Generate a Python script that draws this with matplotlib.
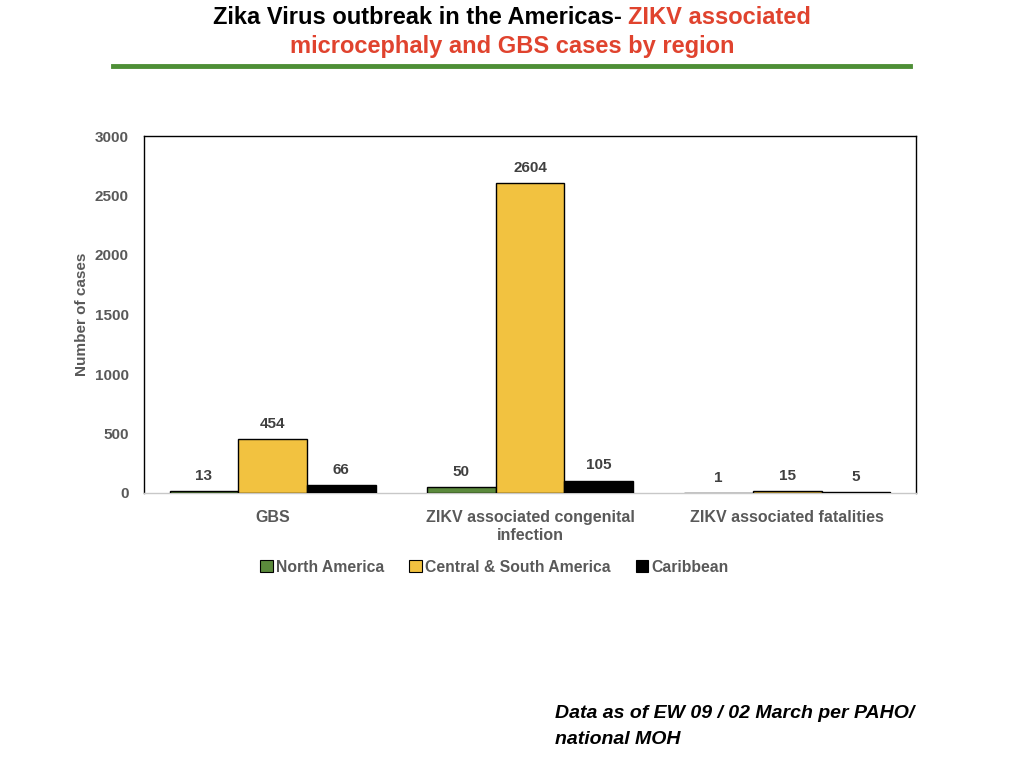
import matplotlib
matplotlib.use("Agg")
import matplotlib.pyplot as plt
import numpy as np
from matplotlib.patches import Patch

categories = ["GBS", "ZIKV associated congenital\ninfection", "ZIKV associated fatalities"]
series_names = ["North America", "Central & South America", "Caribbean"]
north_america = [13, 50, 1]
central_south = [454, 2604, 15]
caribbean = [66, 105, 5]
colors = ["#5B8A3C", "#F2C240", "#000000"]
yticks = [0, 500, 1000, 1500, 2000, 2500, 3000]

plt.rcParams['font.family'] = ['Liberation Sans', 'DejaVu Sans']

fig = plt.figure(figsize=(10.24, 7.68), dpi=100)
ax = fig.add_axes([144/1024, 1-493/768, (916-144)/1024, (493-136)/768])

grey = "#595959"
x = np.arange(len(categories))
w = 0.267
data = [north_america, central_south, caribbean]
for i, (vals, c) in enumerate(zip(data, colors)):
    bars = ax.bar(x + (i-1)*w, vals, width=w, color=c, edgecolor="black", linewidth=1.0, zorder=3)
    for b, v in zip(bars, vals):
        ax.annotate(str(v), (b.get_x()+b.get_width()/2, b.get_height()), xytext=(0, 6),
                    textcoords="offset points", ha="center", va="bottom",
                    fontsize=11, fontweight="bold", color="#404040")

ax.set_xlim(-0.5, 2.5)
ax.set_ylim(0, 3000)
ax.set_yticks(yticks)
ax.set_yticklabels([str(t) for t in yticks], fontsize=11, fontweight="bold", color=grey)
ax.set_xticks(x)
ax.set_xticklabels(categories, fontsize=11.5, fontweight="bold", color=grey, linespacing=1.25)
ax.tick_params(axis="both", length=0)
ax.tick_params(axis="x", pad=12)
ax.tick_params(axis="y", pad=11)
for s in ["left", "top", "right"]:
    ax.spines[s].set_color("black")
    ax.spines[s].set_linewidth(1.0)
ax.spines["bottom"].set_color("#C8C8C8")
ax.spines["bottom"].set_linewidth(1.0)
ax.set_ylabel("Number of cases", fontsize=11, fontweight="bold", color=grey, labelpad=4)

handles = [Patch(facecolor=c, edgecolor="black", linewidth=0.8) for c in colors]
fig.legend(handles, series_names, loc="center", bbox_to_anchor=(0.483, 1-567/768), ncol=3,
           frameon=False, prop={"size": 11.3, "weight": "bold"}, labelcolor=grey,
           handlelength=0.8, handleheight=0.8, handletextpad=0.2, columnspacing=1.6)

# Title
title_fs = 17
ty1 = 1-18/768
t1 = fig.text(0.5, ty1, "Zika Virus outbreak in the Americas- ", fontsize=title_fs,
              fontweight="bold", color="black", ha="left", va="center")
t2 = fig.text(0.5, ty1, "ZIKV associated", fontsize=title_fs, fontweight="bold",
              color="#E0432E", ha="left", va="center")
fig.canvas.draw()
r = fig.canvas.get_renderer()
bb1 = t1.get_window_extent(r)
bb2 = t2.get_window_extent(r)
total = bb1.width + bb2.width
left = 512 - total/2
t1.set_position((left/1024, ty1))
t2.set_position(((left + bb1.width)/1024, ty1))
fig.text(0.5, 1-46/768, "microcephaly and GBS cases by region", fontsize=title_fs,
         fontweight="bold", color="#E0432E", ha="center", va="center")

fig.add_artist(plt.Line2D([113/1024, 910/1024], [1-66/768, 1-66/768], color="#4E8F36",
                          linewidth=3.5, transform=fig.transFigure))

fig.text(555/1024, 1-713/768, "Data as of EW 09 / 02 March per PAHO/", fontsize=14,
         fontweight="bold", fontstyle="italic", color="black", ha="left", va="center")
fig.text(555/1024, 1-739/768, "national MOH", fontsize=14,
         fontweight="bold", fontstyle="italic", color="black", ha="left", va="center")

fig.savefig("out.png", dpi=100)
